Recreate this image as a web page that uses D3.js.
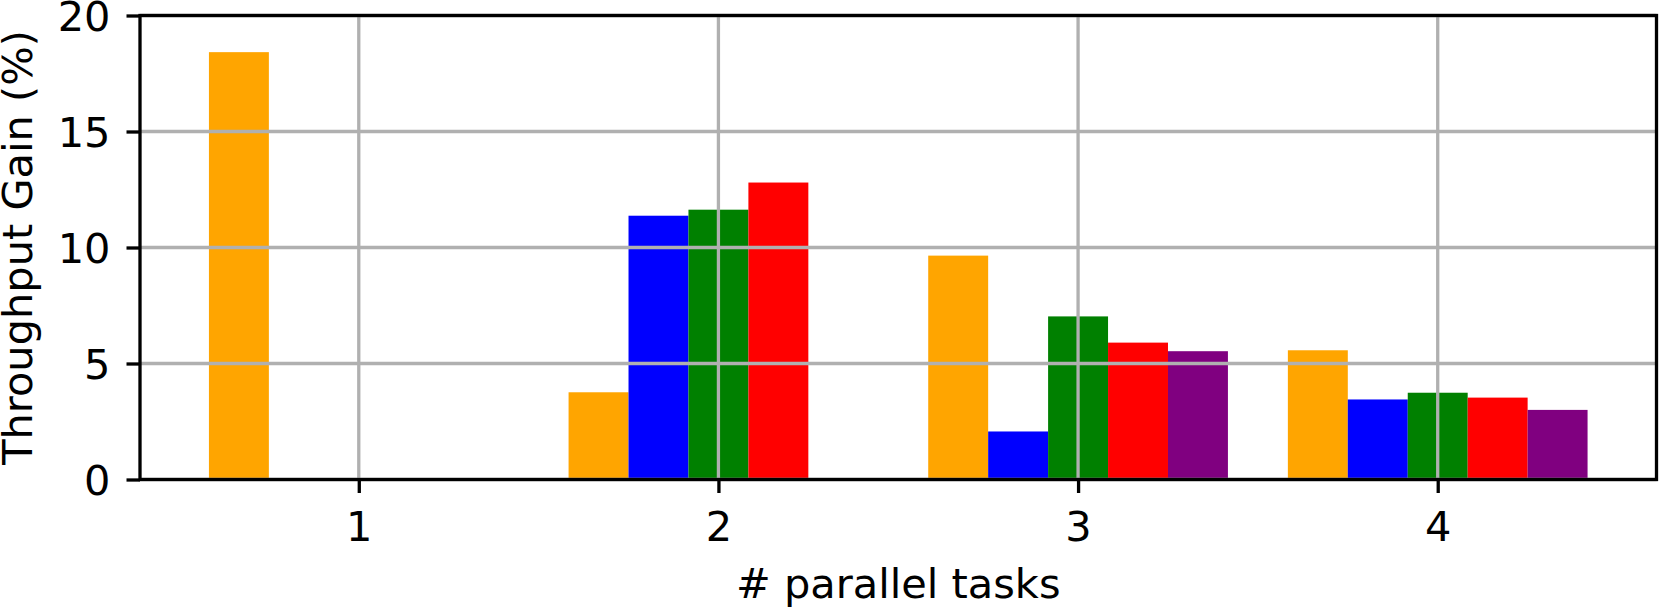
<!DOCTYPE html>
<html>
<head>
<meta charset="utf-8">
<script src="https://cdn.jsdelivr.net/npm/d3@7"></script>
<style>
  body { margin: 0; background: #fff; }
  svg text { font-family: "DejaVu Sans", sans-serif; fill: #000; }
</style>
</head>
<body>
<div id="chart"></div>
<script>
// data
const tasks = [1, 2, 3, 4];
const seriesColors = ["orange", "blue", "green", "red", "purple"];
const orangeVals = [18.42, 3.76, 9.65, 5.57];
const blueVals = [0, 11.37, 2.07, 3.45];
const greenVals = [0, 11.63, 7.03, 3.74];
const redVals = [0, 12.80, 5.90, 3.53];
const purpleVals = [0, 0, 5.53, 3.00];
const yTicks = [0, 5, 10, 15, 20];

const allSeries = [orangeVals, blueVals, greenVals, redVals, purpleVals];

const width = 1659;
const height = 607;
const margin = { left: 140, right: 2.5, top: 15.5, bottom: 127.5 };
const fontPx = 41.5;
const barW = 1 / 6;

const svg = d3.select("#chart")
    .append("svg")
    .attr("width", width)
    .attr("height", height);

// matplotlib-style 5% margin around the bars
const xMin = 1 - 2.5 * barW, xMax = 4 + 2.5 * barW;
const pad = (xMax - xMin) * 0.05;

const x = d3.scaleLinear()
    .domain([xMin - pad, xMax + pad])
    .range([margin.left, width - margin.right]);

const y = d3.scaleLinear()
    .domain([0, 20])
    .range([height - margin.bottom, margin.top]);

// bars
allSeries.forEach((vals, si) => {
    svg.append("g")
        .selectAll("rect")
        .data(vals.map((v, i) => ({ task: tasks[i], v })))
        .join("rect")
        .attr("x", d => x(d.task + (si - 2.5) * barW))
        .attr("width", d => x(d.task + (si - 1.5) * barW) - x(d.task + (si - 2.5) * barW))
        .attr("y", d => y(d.v))
        .attr("height", d => y(0) - y(d.v))
        .attr("fill", seriesColors[si]);
});

// grid on top of the bars
const grid = svg.append("g").attr("stroke", "#b0b0b0").attr("stroke-width", 3.3);
grid.selectAll(".gy").data(yTicks).join("line")
    .attr("x1", margin.left).attr("x2", width - margin.right)
    .attr("y1", d => y(d)).attr("y2", d => y(d));
grid.selectAll(".gx").data(tasks).join("line")
    .attr("x1", d => x(d)).attr("x2", d => x(d))
    .attr("y1", margin.top).attr("y2", height - margin.bottom);

// axes
const xAxis = svg.append("g")
    .attr("transform", `translate(0,${height - margin.bottom})`)
    .call(d3.axisBottom(x).tickValues(tasks).tickFormat(d3.format("d"))
        .tickSize(13.5).tickSizeOuter(0).tickPadding(16));
const yAxis = svg.append("g")
    .attr("transform", `translate(${margin.left},0)`)
    .call(d3.axisLeft(y).tickValues(yTicks)
        .tickSize(13.5).tickSizeOuter(0).tickPadding(16));

[xAxis, yAxis].forEach(a => {
    a.select(".domain").remove();
    a.selectAll(".tick line").attr("stroke", "#000").attr("stroke-width", 3.3);
    a.selectAll(".tick text").style("font-size", fontPx + "px");
});
xAxis.selectAll(".tick text").attr("dy", null).attr("y", 61);
yAxis.selectAll(".tick text").attr("dy", "0.36em");

// spines
svg.append("rect")
    .attr("x", margin.left).attr("y", margin.top)
    .attr("width", width - margin.right - margin.left)
    .attr("height", height - margin.bottom - margin.top)
    .attr("fill", "none").attr("stroke", "#000").attr("stroke-width", 3.3);

// axis labels
svg.append("text")
    .attr("x", (margin.left + width - margin.right) / 2)
    .attr("y", 598)
    .attr("text-anchor", "middle")
    .style("font-size", fontPx + "px")
    .text("# parallel tasks");

svg.append("text")
    .attr("transform", `translate(32,${(margin.top + height - margin.bottom) / 2}) rotate(-90)`)
    .attr("text-anchor", "middle")
    .style("font-size", fontPx + "px")
    .text("Throughput Gain (%)");
</script>
</body>
</html>
